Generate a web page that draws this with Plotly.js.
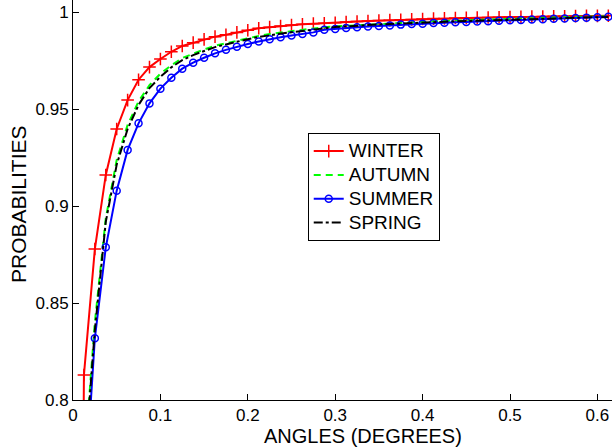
<!DOCTYPE html>
<html>
<head>
<meta charset="utf-8">
<script src="https://cdn.plot.ly/plotly-3.0.1.min.js"></script>
<style>
html,body{margin:0;padding:0;background:#fff;}
#chart{width:612px;height:447px;}
.legendtext{font-size:19px !important;}
</style>
</head>
<body>
<div id="chart"></div>
<script>
const angles = [0,0.0125,0.025,0.0375,0.05,0.0625,0.075,0.0875,0.1,0.1125,0.125,0.1375,0.15,0.1625,0.175,0.1875,0.2,0.2125,0.225,0.2375,0.25,0.2625,0.275,0.2875,0.3,0.3125,0.325,0.3375,0.35,0.3625,0.375,0.3875,0.4,0.4125,0.425,0.4375,0.45,0.4625,0.475,0.4875,0.5,0.5125,0.525,0.5375,0.55,0.5625,0.575,0.5875,0.6,0.6125];

const winter = [0,0.8129,0.8778,0.9160,0.9397,0.9546,0.9651,0.9716,0.9758,0.9795,0.9825,0.9842,0.9859,0.9873,0.9883,0.9895,0.9906,0.9916,0.9922,0.9928,0.9933,0.9937,0.9940,0.9942,0.9945,0.9948,0.9951,0.9954,0.9956,0.9958,0.9960,0.9962,0.9964,0.9966,0.9967,0.9969,0.9970,0.9971,0.9972,0.9973,0.9974,0.9975,0.9976,0.9977,0.9978,0.9978,0.9979,0.9980,0.9980,0.9981];

const autumn = [0,0.765,0.840,0.8936,0.9237,0.9418,0.9539,0.9623,0.9682,0.9725,0.9763,0.9786,0.9807,0.9826,0.9839,0.9854,0.9866,0.9877,0.9887,0.9894,0.9902,0.9908,0.9913,0.9922,0.9926,0.9929,0.9933,0.9937,0.9939,0.9942,0.9945,0.9948,0.9950,0.9952,0.9954,0.9956,0.9958,0.9959,0.9961,0.9963,0.9965,0.9967,0.9969,0.9970,0.9972,0.9973,0.9975,0.9976,0.9977,0.9978];

const summer = [0,0.7435,0.8318,0.8787,0.9079,0.9289,0.9426,0.9529,0.9605,0.9661,0.9708,0.9739,0.9764,0.9787,0.9805,0.9821,0.9835,0.9848,0.9860,0.9870,0.9879,0.9887,0.9895,0.9908,0.9913,0.9917,0.9921,0.9925,0.9928,0.9931,0.9935,0.9938,0.9940,0.9943,0.9945,0.9947,0.9949,0.9951,0.9953,0.9955,0.9957,0.9959,0.9961,0.9963,0.9965,0.9967,0.9969,0.9971,0.9973,0.9975];

const spring = [0,0.762,0.836,0.8918,0.9213,0.9397,0.9521,0.9608,0.9666,0.9715,0.9752,0.9778,0.9799,0.9819,0.9833,0.9848,0.9860,0.9872,0.9881,0.9889,0.9896,0.9902,0.9909,0.9918,0.9923,0.9926,0.9930,0.9933,0.9936,0.9938,0.9941,0.9944,0.9946,0.9948,0.9950,0.9952,0.9953,0.9955,0.9957,0.9958,0.9960,0.9962,0.9963,0.9965,0.9967,0.9968,0.9970,0.9972,0.9973,0.9974];

const seriesNames = ['WINTER','AUTUMN','SUMMER','SPRING'];
const xTickVals = [0,0.1,0.2,0.3,0.4,0.5,0.6];
const yTickVals = [0.8,0.85,0.9,0.95,1];

const font = 'Liberation Sans, Arial, sans-serif';

const traces = [
  {x: angles, y: winter, name: seriesNames[0], mode: 'lines+markers',
   line: {color: '#ff0000', width: 2},
   marker: {symbol: 'cross-thin-open', size: 9, color: '#ff0000', line: {color: '#ff0000', width: 1.5}}},
  {x: angles, y: autumn, name: seriesNames[1], mode: 'lines',
   line: {color: '#00ff00', width: 2, dash: '7px,5px'}},
  {x: angles, y: summer, name: seriesNames[2], mode: 'lines+markers',
   line: {color: '#0000ff', width: 2},
   marker: {symbol: 'circle-open', size: 7, color: '#0000ff', line: {color: '#0000ff', width: 1.5}}},
  {x: angles, y: spring, name: seriesNames[3], mode: 'lines',
   line: {color: '#000000', width: 2, dash: 'dashdot'}}
];

const layout = {
  width: 612, height: 447,
  margin: {l: 73, r: 0, t: 0, b: 47},
  paper_bgcolor: '#ffffff', plot_bgcolor: '#ffffff',
  showlegend: true,
  font: {family: font, size: 17, color: '#000'},
  xaxis: {
    range: [0, 0.6167], tickvals: xTickVals, ticks: 'inside', ticklen: 6, tickcolor: '#000',
    showline: true, linecolor: '#000', linewidth: 1, showgrid: false, zeroline: false,
    tickfont: {family: font, size: 17, color: '#000'}
  },
  yaxis: {
    range: [0.8, 1.00619], tickvals: yTickVals, ticks: 'inside', ticklen: 6, tickcolor: '#000',
    showline: true, linecolor: '#000', linewidth: 1, showgrid: false, zeroline: false,
    tickfont: {family: font, size: 17, color: '#000'}
  },
  legend: {
    x: 0.4355, y: 0.667, xanchor: 'left', yanchor: 'top',
    bgcolor: '#ffffff', bordercolor: '#000', borderwidth: 1,
    font: {family: font, size: 16, color: '#000'},
    itemwidth: 30, tracegroupgap: 0
  },
  annotations: [
    {text: 'ANGLES (DEGREES)', xref: 'paper', yref: 'paper', x: 0.538, y: -0.09,
     xanchor: 'center', yanchor: 'middle', showarrow: false,
     font: {family: font, size: 20, color: '#000'}},
    {text: 'PROBABILITIES', xref: 'paper', yref: 'paper', x: -0.102, y: 0.49,
     xanchor: 'center', yanchor: 'middle', showarrow: false, textangle: -90,
     font: {family: font, size: 21, color: '#000'}}
  ]
};

Plotly.newPlot('chart', traces, layout, {displayModeBar: false, staticPlot: true});
</script>
</body>
</html>
